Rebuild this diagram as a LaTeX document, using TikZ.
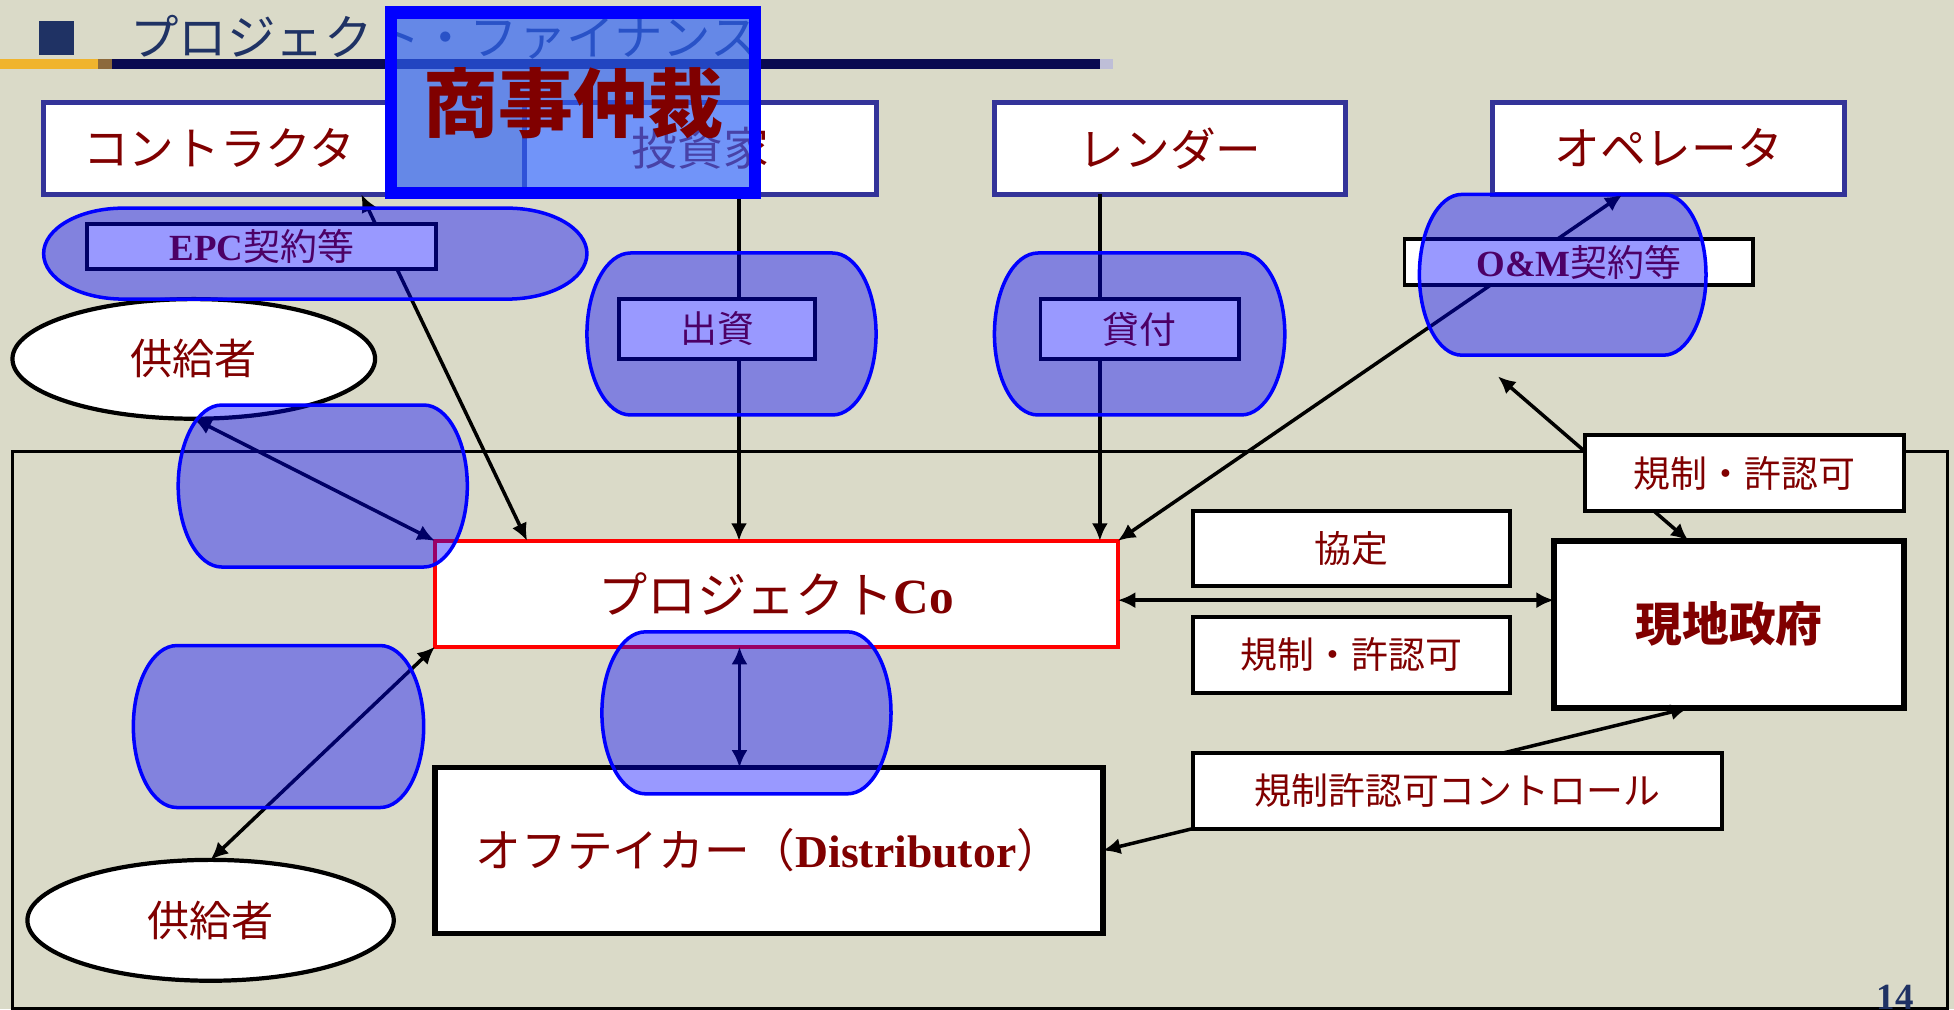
\documentclass[tikz,border=0pt]{standalone}
\usepackage{fontspec}
\setmainfont{Liberation Serif}
\newfontfamily\jp{Noto Sans CJK JP}
\usetikzlibrary{arrows.meta,calc,shapes.geometric}
\newlength\unitpx \setlength\unitpx{0.012462cm}
\definecolor{bgc}{RGB}{218,218,200}
\definecolor{navyt}{RGB}{31,50,100}
\definecolor{goldc}{RGB}{240,180,45}
\definecolor{brownc}{RGB}{140,105,60}
\definecolor{navys}{RGB}{10,10,80}
\definecolor{lightc}{RGB}{190,190,215}
\definecolor{dred}{RGB}{128,0,0}
\definecolor{boxblue}{RGB}{51,51,153}
\definecolor{ovl}{RGB}{46,98,247}
\definecolor{pureblue}{RGB}{0,0,255}
\newcommand\bxnode[7]{\node[#1,minimum width={(#5-#3)*\unitpx},minimum height={(#6-#4)*\unitpx}] (#2) at ({(#3+#5)/2},{(#4+#6)/2}) {#7};}
\newcommand\drawbarrel[5]{%
 \pgfmathsetmacro\brM{(#2+#4)/2}%
 \pgfmathsetmacro\brKy{0.5523*(#4-#2)/2}%
 \pgfmathsetmacro\brKx{0.5523*#5}%
 \pgfmathsetmacro\brL{#1+#5}%
 \pgfmathsetmacro\brR{#3-#5}%
 \draw[barrelst] (\brL,#2) -- (\brR,#2)
   .. controls ({\brR+\brKx},#2) and (#3,{\brM-\brKy}) .. (#3,\brM)
   .. controls (#3,{\brM+\brKy}) and ({\brR+\brKx},#4) .. (\brR,#4)
   -- (\brL,#4)
   .. controls ({\brL-\brKx},#4) and (#1,{\brM+\brKy}) .. (#1,\brM)
   .. controls (#1,{\brM-\brKy}) and ({\brL-\brKx},#2) .. (\brL,#2) -- cycle;}
\begin{document}
\begin{tikzpicture}[x=0.012462cm,y=-0.012462cm,
  fs/.style={font=\jp\fontsize{#1}{#1}\selectfont},
  topbox/.style={draw=boxblue,line width=1.4pt,fill=white,inner sep=0pt,outer sep=0pt,text=dred,fs=13pt},
  ell/.style={ellipse,draw=black,line width=1.2pt,fill=white,inner sep=0pt,outer sep=0pt,text=dred,fs=12pt},
  pcost/.style={draw=red,line width=1pt,fill=white,inner sep=0pt,outer sep=0pt,text=dred,fs=14pt},
  offst/.style={draw=black,line width=1.5pt,fill=white,inner sep=0pt,outer sep=0pt,text=dred,fs=13pt},
  govst/.style={draw=black,line width=1.7pt,fill=white,inner sep=0pt,outer sep=0pt,text=dred,fs=13.3pt},
  lbl/.style={draw=black,line width=1.1pt,fill=white,inner sep=0pt,outer sep=0pt,text=dred,fs=10.5pt},
  barrelst/.style={draw=pureblue,line width=1pt,fill=pureblue,fill opacity=0.4},
  arr/.style={line width=1pt,draw=black},
  ovst/.style={draw=pureblue,line width=3.5pt,fill=ovl,fill opacity=0.68,text opacity=1,inner sep=0pt,outer sep=0pt,text=dred,fs=21.3pt},
  >={Latex[length=5pt,width=4.6pt]}]
\useasboundingbox (0,0) rectangle (1568,810);
\fill[bgc] (0,0) rectangle (1568,810);
% title
\fill[navyt] (31,17) rectangle (59,44);
\node[anchor=west,inner sep=0pt,text=navyt,fs=13.8pt] (ttl) at (104,30) {プロジェクト・ファイナンス};
\fill[goldc] (0,47) rectangle (79,55);
\fill[brownc] (79,47) rectangle (90,55);
\fill[navys] (90,47) rectangle (883,55);
\fill[lightc] (883,47) rectangle (893,55);
% frame
\draw[line width=0.9pt] (10,362) rectangle (1563,809);
% main nodes
\bxnode{topbox}{ctr}{35}{82}{317}{156}{コントラクタ}
\bxnode{topbox}{inv}{421}{82}{703}{156}{投資家}
\bxnode{topbox}{lend}{798}{82}{1080}{156}{レンダー}
\bxnode{topbox}{opr}{1198}{82}{1480}{156}{オペレータ}
\node[ell,minimum width={291*\unitpx},minimum height={96*\unitpx}] (sup1) at (155.5,288) {供給者};
\node[ell,minimum width={294*\unitpx},minimum height={97*\unitpx}] (sup2) at (169,738.5) {供給者};
\bxnode{pcost}{pco}{349}{434}{897}{519}{プロジェクト{\rmfamily\bfseries Co}}
\bxnode{offst}{off}{349}{616}{885}{749}{オフテイカー（{\rmfamily\bfseries Distributor}）}
\bxnode{govst}{gov}{1247}{434}{1528}{568}{\bfseries 現地政府}
\bxnode{lbl}{kyotei}{957}{410}{1212}{470}{協定}
\bxnode{lbl}{kisei1}{957}{495}{1212}{556}{規制・許認可}
% connectors
\coordinate (ca) at ($(ctr.south west)!0.904!(ctr.south east)$);
\coordinate (cb) at ($(pco.north west)!0.135!(pco.north east)$);
\draw[arr,<->] (ca) -- (cb);
\draw[arr,<->] (sup1.south) -- (pco.north west);
\coordinate (ib) at ($(inv.south west)!0.61!(inv.south east)$);
\draw[arr,->] (ib) -- (ib |- pco.north);
\coordinate (lb) at ($(lend.south west)!0.30!(lend.south east)$);
\draw[arr,->] (lb) -- (lb |- pco.north);
\coordinate (ob) at ($(opr.south west)!0.369!(opr.south east)$);
\draw[arr,<->] (pco.north east) -- (ob);
\coordinate (pe) at ($(pco.north east)!0.56!(pco.south east)$);
\draw[arr,<->] (pe) -- (pe -| gov.west);
\coordinate (pb) at ($(pco.south west)!0.446!(pco.south east)$);
\draw[arr,<->] (pb) -- (pb |- off.north);
\draw[arr,<->] (sup2.north) -- (pco.south west);
\coordinate (gb) at ($(gov.south west)!0.384!(gov.south east)$);
\draw[arr,<->] (gb) -- (off.east);
\coordinate (gt) at ($(gov.north west)!0.384!(gov.north east)$);
\coordinate (free1) at (1202,302);
\draw[arr,<->] (free1) -- (gt);
% label boxes
\bxnode{lbl}{kisei2}{1272}{349}{1528}{410}{規制・許認可}
\bxnode{lbl}{ctrl}{957}{604}{1382}{665}{規制許認可コントロール}
\bxnode{lbl}{epc}{70}{180}{350}{216}{{\rmfamily\bfseries EPC}契約等}
\bxnode{lbl}{shusshi}{497}{240}{654}{288}{出資}
\bxnode{lbl}{kashi}{835}{240}{994}{288}{貸付}
\bxnode{lbl}{om}{1127}{192}{1407}{229}{{\rmfamily\bfseries O\&M}契約等}
% translucent barrels
\drawbarrel{35}{167}{471}{240}{64}
\drawbarrel{143}{325}{375}{455}{35}
\drawbarrel{471}{203}{703}{333}{35}
\drawbarrel{798}{203}{1031}{333}{35}
\drawbarrel{1139}{156}{1369}{285}{34}
\drawbarrel{107}{518}{340}{648}{35}
\drawbarrel{483}{507}{715}{637}{35}
% arbitration overlay
\bxnode{ovst}{arb}{314}{10}{606}{155}{\bfseries 商事仲裁}
% page number
\node[anchor=base,inner sep=0pt,text=navyt,font=\rmfamily\bfseries\fontsize{10.5pt}{10.5pt}\selectfont] (pg) at (1521,810) {14};
\end{tikzpicture}
\end{document}
